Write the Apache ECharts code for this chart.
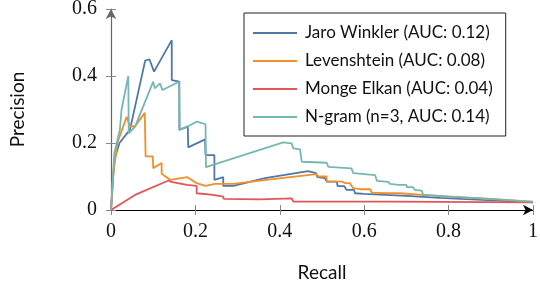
<!DOCTYPE html>
<html>
<head>
<meta charset="utf-8">
<script src="https://cdn.jsdelivr.net/npm/echarts@6/dist/echarts.min.js"></script>
<style>
  html, body { margin: 0; padding: 0; background: #fff; }
  #chart { width: 540px; height: 284px; }
</style>
</head>
<body>
<div id="chart"></div>
<script>
// Precision-recall curves, [recall, precision]
const jaroWinkler = [[0,0],[0.008,0.15],[0.02,0.2],[0.045,0.24],[0.081,0.446],[0.091,0.45],[0.102,0.413],[0.144,0.507],[0.144,0.388],[0.162,0.383],[0.162,0.239],[0.182,0.249],[0.183,0.187],[0.223,0.211],[0.224,0.164],[0.245,0.164],[0.245,0.09],[0.266,0.098],[0.266,0.072],[0.29,0.072],[0.365,0.095],[0.467,0.116],[0.486,0.11],[0.489,0.098],[0.507,0.095],[0.511,0.085],[0.535,0.085],[0.537,0.071],[0.553,0.071],[0.558,0.06],[0.576,0.06],[0.578,0.05],[0.6,0.048],[0.65,0.045],[0.7,0.042],[0.78,0.036],[0.88,0.03],[1,0.023]];
const levenshtein = [[0,0],[0.005,0.1],[0.015,0.2],[0.037,0.278],[0.045,0.25],[0.057,0.25],[0.08,0.29],[0.082,0.16],[0.099,0.16],[0.1,0.125],[0.12,0.14],[0.12,0.108],[0.14,0.09],[0.181,0.098],[0.203,0.08],[0.224,0.072],[0.246,0.078],[0.29,0.078],[0.353,0.088],[0.487,0.107],[0.491,0.1],[0.511,0.1],[0.511,0.085],[0.547,0.085],[0.555,0.08],[0.566,0.08],[0.574,0.065],[0.59,0.062],[0.614,0.062],[0.618,0.052],[0.653,0.05],[0.685,0.05],[0.737,0.045],[0.8,0.04],[0.9,0.033],[1,0.024]];
const mongeElkan = [[0,0],[0.057,0.045],[0.136,0.088],[0.143,0.084],[0.18,0.075],[0.203,0.072],[0.203,0.05],[0.242,0.045],[0.266,0.04],[0.267,0.033],[0.353,0.032],[0.428,0.035],[0.432,0.025],[0.66,0.025],[1,0.023]];
const nGram = [[0,0],[0.008,0.17],[0.021,0.24],[0.025,0.3],[0.041,0.4],[0.042,0.229],[0.057,0.249],[0.1,0.383],[0.104,0.363],[0.116,0.378],[0.122,0.358],[0.161,0.383],[0.163,0.24],[0.187,0.253],[0.204,0.264],[0.224,0.256],[0.225,0.128],[0.408,0.202],[0.428,0.199],[0.432,0.184],[0.448,0.181],[0.452,0.144],[0.511,0.141],[0.515,0.129],[0.57,0.124],[0.574,0.11],[0.626,0.104],[0.63,0.087],[0.657,0.084],[0.661,0.078],[0.681,0.075],[0.7,0.075],[0.701,0.068],[0.716,0.068],[0.72,0.06],[0.736,0.058],[0.74,0.045],[1,0.025]];

const seriesNames = ['Jaro Winkler (AUC: 0.12)', 'Levenshtein (AUC: 0.08)', 'Monge Elkan (AUC: 0.04)', 'N-gram (n=3, AUC: 0.14)'];
const seriesData = [jaroWinkler, levenshtein, mongeElkan, nGram];
const colors = ['#4e79a7', '#f28e2b', '#e15759', '#76b7b2'];

const xTitle = 'Recall';
const yTitle = 'Precision';

const chart = echarts.init(document.getElementById('chart'), null, { renderer: 'canvas' });

const serif = 'Liberation Serif';
const sans = 'Lato';
const gridRect = { left: 111, right: 7, top: 9, bottom: 74, containLabel: false, outerBoundsMode: 'none' };

chart.setOption({
  animation: false,
  color: colors,
  grid: [
    Object.assign({}, gridRect),
    Object.assign({}, gridRect)
  ],
  legend: {
    orient: 'vertical',
    left: 244,
    top: 13,
    data: seriesNames,
    icon: 'rect',
    itemWidth: 44,
    itemHeight: 2,
    itemGap: 8,
    padding: [10, 13, 9, 9],
    backgroundColor: '#fff',
    borderColor: '#222',
    borderWidth: 1,
    textStyle: { fontFamily: sans, fontSize: 17, color: '#111', lineHeight: 20, padding: [0, 0, 0, 3] }
  },
  xAxis: [
    {
      gridIndex: 0, type: 'value', min: 0, max: 1, interval: 0.2,
      name: xTitle, nameLocation: 'middle', nameGap: 53,
      nameTextStyle: { fontFamily: sans, fontSize: 19, color: '#111' },
      axisLine: { show: true, symbol: ['none', 'arrow'], symbolSize: [8, 10], lineStyle: { color: '#000', width: 1.2 } },
      axisTick: { show: true, length: 5, lineStyle: { color: '#888' } },
      axisLabel: { fontFamily: serif, fontSize: 20, color: '#111', margin: 12 },
      splitLine: { show: false }
    },
    {
      gridIndex: 1, type: 'value', min: 0, max: 1, interval: 0.2,
      axisLine: { show: false },
      axisTick: { show: true, inside: true, length: 5, lineStyle: { color: '#888' } },
      axisLabel: { show: false },
      splitLine: { show: false }
    }
  ],
  yAxis: [
    {
      gridIndex: 0, type: 'value', min: 0, max: 0.6, interval: 0.2,
      name: yTitle, nameLocation: 'middle', nameGap: 84,
      nameTextStyle: { fontFamily: sans, fontSize: 19, color: '#111' },
      axisLine: { show: true, symbol: ['none', 'arrow'], symbolSize: [8, 10], lineStyle: { color: '#666', width: 1.2 } },
      axisTick: { show: true, length: 5, lineStyle: { color: '#888' } },
      axisLabel: { fontFamily: serif, fontSize: 20, color: '#111', margin: 14 },
      splitLine: { show: false }
    },
    {
      gridIndex: 1, type: 'value', min: 0, max: 0.6, interval: 0.2,
      axisLine: { show: false },
      axisTick: { show: true, inside: true, length: 5, lineStyle: { color: '#888' } },
      axisLabel: { show: false },
      splitLine: { show: false }
    }
  ],
  series: seriesNames.map((name, i) => ({
    name: name,
    type: 'line',
    xAxisIndex: 0,
    yAxisIndex: 0,
    data: seriesData[i],
    showSymbol: false,
    symbol: 'none',
    lineStyle: { width: 1.8, color: colors[i] },
    itemStyle: { color: colors[i] },
    z: 2 + i
  }))
});
</script>
</body>
</html>
